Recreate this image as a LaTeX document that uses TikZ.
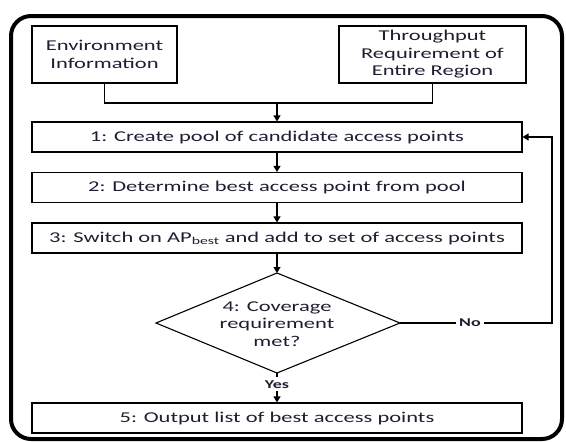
\documentclass[tikz,border=0pt]{standalone}
\usepackage{fontspec}
\setmainfont{Carlito}[FakeStretch=1.5]
\usetikzlibrary{arrows.meta}
\definecolor{txt}{HTML}{1E1E32}
\begin{document}
\begin{tikzpicture}[x=1pt,y=1pt,
  every node/.style={text=txt,font=\fontsize{15}{17.5}\selectfont},
  box/.style={draw=black,line width=1.1pt,rectangle,inner sep=0pt,align=center},
  wide/.style={box,minimum width=490pt,minimum height=30pt},
  conn/.style={draw=black,line width=1.1pt},
  arr/.style={conn,-{Triangle[length=6pt,width=7pt]}},
  lab/.style={fill=white,inner sep=3pt,font=\fontsize{12}{14}\selectfont\bfseries}]
\useasboundingbox (0,0) rectangle (566,-442);
\draw[line width=4pt,rounded corners=20pt] (11,-16) rectangle (562,-439);
\node[box,minimum width=145pt,minimum height=57pt] (env) at (104.5,-54.5) {Environment\\Information};
\node[box,minimum width=187pt,minimum height=57pt] (thr) at (432.5,-54.5) {Throughput\\Requirement of\\Entire Region};
\node[wide] (b1) at (277,-137) {1: Create pool of candidate access points};
\node[wide] (b2) at (277,-187.5) {2: Determine best access point from pool};
\node[wide] (b3) at (277,-238) {3: Switch on AP\textsubscript{best} and add to set of access points};
% decision diamond
\coordinate (dn) at (277,-273);
\coordinate (de) at (400,-323);
\coordinate (ds) at (277,-373);
\coordinate (dw) at (156,-323);
\draw[conn] (dn) -- (de) -- (ds) -- (dw) -- cycle;
\node[align=center,inner sep=0pt] (d) at (277,-324) {4: Coverage\\requirement\\met?};
\node[wide] (b5) at (277,-418) {5: Output list of best access points};
\coordinate (j) at (277,-103);
\coordinate (fb) at (552,-323);
\draw[conn] (env.south) |- (j) -| (thr.south);
\draw[arr] (j) -- (b1.north);
\draw[arr] (b1.south) -- (b2.north);
\draw[arr] (b2.south) -- (b3.north);
\draw[arr] (b3.south) -- (dn);
\draw[arr] (ds) -- node[lab,pos=0.38]{Yes} (b5.north);
\draw[arr] (de) -- node[lab,pos=0.46]{No} (fb) |- (b1.east);
\end{tikzpicture}
\end{document}
